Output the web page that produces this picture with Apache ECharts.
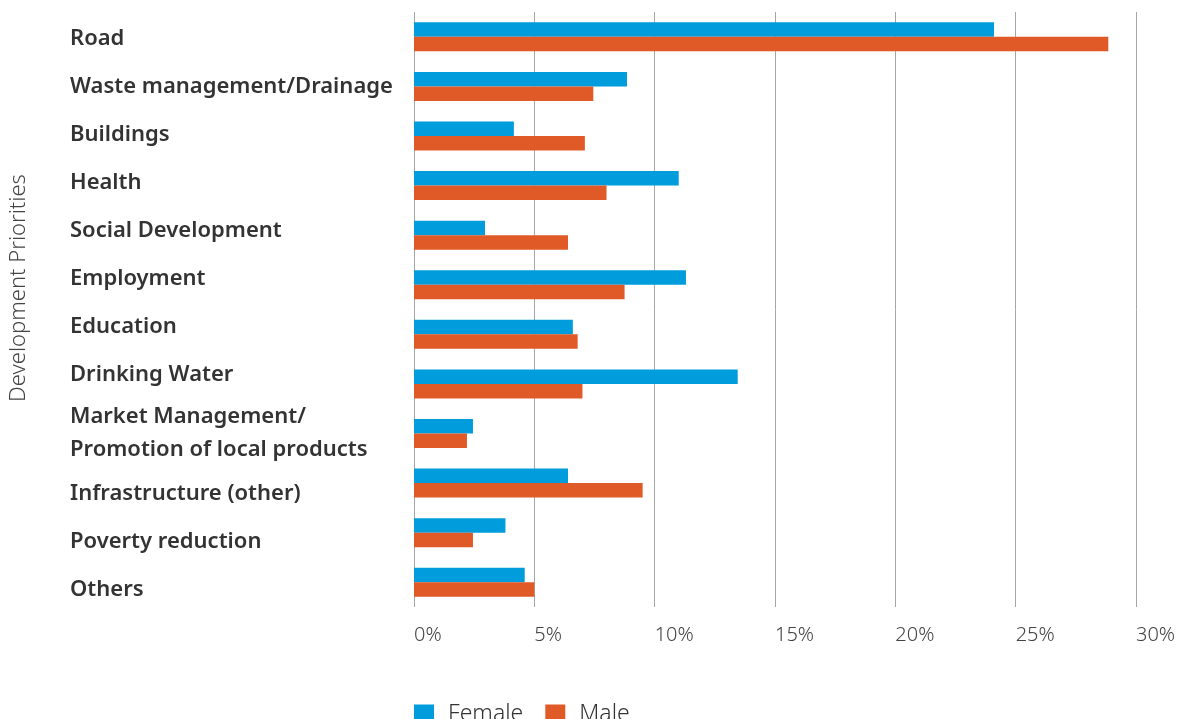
<!DOCTYPE html>
<html>
<head>
<meta charset="utf-8">
<script src="https://cdn.jsdelivr.net/npm/echarts@6/dist/echarts.min.js"></script>
<style>
  html, body { margin: 0; padding: 0; background: #fff; }
  #chart { width: 1179px; height: 719px; }
</style>
</head>
<body>
<div id="chart"></div>
<script>
var categories = [
  "Road",
  "Waste management/Drainage",
  "Buildings",
  "Health",
  "Social Development",
  "Employment",
  "Education",
  "Drinking Water",
  "Market Management/\nPromotion of local products",
  "Infrastructure (other)",
  "Poverty reduction",
  "Others"
];
var female = [24.1, 8.85, 4.15, 11.0, 2.95, 11.3, 6.6, 13.45, 2.45, 6.4, 3.8, 4.6];
var male = [28.85, 7.45, 7.1, 8.0, 6.4, 8.75, 6.8, 7.0, 2.2, 9.5, 2.45, 5.0];
var xTicks = [0, 5, 10, 15, 20, 25, 30];

// the labels in the source flow at their own spacing, not exactly on the bars (px)
var labelShift = [2, 0, -1, -3, -4, -6, -8, -9, 0, 11, 9, 8];

var labelFont = { fontFamily: "Noto Sans", fontWeight: 600, fontSize: 22, color: "#333" };
var rich = {};
labelShift.forEach(function (s, i) {
  // top-aligned token: moves up by half the extra line height, down by the top padding
  rich["s" + i] = Object.assign({}, labelFont, {
    lineHeight: s >= -4 ? 30 : 22 - 2 * s,
    verticalAlign: "top",
    padding: [s >= -4 ? s + 4 : 0, 0, 0, 0]
  });
});

var chart = echarts.init(document.getElementById("chart"));
var option = {
  animation: false,
  grid: { left: 414, right: 43, top: 12, bottom: 112, containLabel: false, outerBoundsMode: "none" },
  legend: {
    left: 409,
    top: 698,
    itemWidth: 20,
    itemHeight: 20,
    itemGap: 22,
    icon: "rect",
    textStyle: { fontFamily: "Noto Sans", fontWeight: 300, fontSize: 23, color: "#333", padding: [0, 0, 0, 9] },
    data: ["Female", "Male"]
  },
  graphic: [
    {
      type: "text",
      x: 8,
      y: 288,
      rotation: Math.PI / 2,
      style: {
        text: "Development Priorities",
        fontFamily: "Noto Sans",
        fontWeight: 300,
        fontSize: 22,
        fill: "#444",
        align: "center",
        verticalAlign: "top"
      }
    }
  ],
  xAxis: {
    type: "value",
    min: xTicks[0],
    max: xTicks[xTicks.length - 1],
    interval: 5,
    axisLine: { show: false },
    axisTick: { show: false },
    splitLine: { show: true, lineStyle: { color: "#a6a6a6", width: 1 } },
    axisLabel: {
      formatter: "{value}%",
      align: "left",
      margin: 18,
      fontFamily: "Noto Sans",
      fontWeight: 300,
      fontSize: 20,
      color: "#444"
    }
  },
  yAxis: {
    type: "category",
    inverse: true,
    data: categories,
    axisLine: { show: false },
    axisTick: { show: false },
    axisLabel: {
      interval: 0,
      align: "left",
      margin: 344,
      fontFamily: "Noto Sans",
      fontWeight: 600,
      fontSize: 22,
      lineHeight: 33,
      color: "#333",
      rich: rich,
      formatter: function (value, i) {
        if (labelShift[i] === 0) return value;
        return "{s" + i + "|" + value + "}";
      }
    }
  },
  series: [
    {
      name: "Female",
      type: "bar",
      data: female,
      barWidth: 14.5,
      barGap: "0%",
      itemStyle: { color: "#009cdc" }
    },
    {
      name: "Male",
      type: "bar",
      data: male,
      barWidth: 14.5,
      barGap: "0%",
      itemStyle: { color: "#e05a28" }
    }
  ]
};
chart.setOption(option);
</script>
</body>
</html>
